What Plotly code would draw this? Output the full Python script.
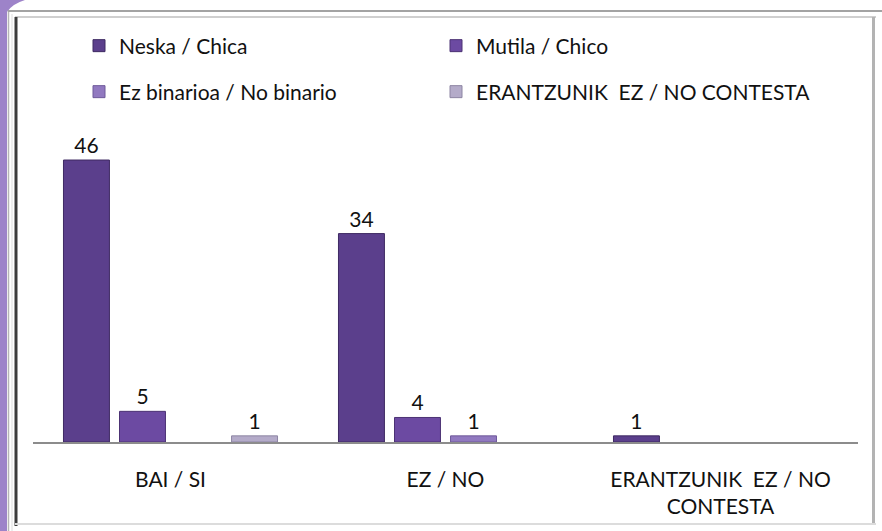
import plotly.graph_objects as go

# Survey answers, grouped by response, one series per respondent group
categories = ["BAI / SI", "EZ / NO", "ERANTZUNIK\u00a0 EZ / NO<br>CONTESTA"]
series_names = [
    "Neska / Chica",
    "Mutila / Chico",
    "Ez binarioa / No binario",
    "ERANTZUNIK\u00a0 EZ / NO CONTESTA",
]
neska = [46, 34, 1]
mutila = [5, 4, 0]
ez_binarioa = [0, 1, 0]
erantzunik_ez = [1, 0, 0]

fills = ["#5b3f8c", "#6c4aa2", "#9179c0", "#b4abc9"]
edges = ["#3e2a62", "#4c3274", "#6f5a9a", "#8d85a3"]
legend_ids = ["legend", "legend2", "legend3", "legend4"]

W, H = 882, 531
FONT = "Lato, 'Open Sans', sans-serif"


# pixel -> paper helpers (margins are zero, so paper spans the whole page)
def px(x):
    return x / W


def py(y):
    return 1 - y / H


fig = go.Figure()
for name, vals, fill, edge, lg in zip(
    series_names, [neska, mutila, ez_binarioa, erantzunik_ez], fills, edges, legend_ids
):
    fig.add_trace(
        go.Bar(
            name=name,
            x=categories,
            y=[v if v else None for v in vals],
            text=[str(v) if v else "" for v in vals],
            textposition="outside",
            cliponaxis=False,
            textfont=dict(family=FONT, size=21, color="#111111"),
            marker=dict(color=fill, line=dict(color=edge, width=1)),
            legend=lg,
        )
    )

frame = dict(xref="paper", yref="paper")
shapes = [
    # lavender strip on the left edge
    dict(frame, type="rect", x0=0, x1=px(7), y0=0, y1=1, fillcolor="#9d83c9", line_width=0),
    dict(frame, type="path",
         path=f"M0,1 L{px(25)},1 Q{px(12)},{py(4)} {px(7)},{py(12)} L0,{py(12)} Z",
         fillcolor="#9d83c9", line_width=0),
    # outer frame lines
    dict(frame, type="line", x0=px(8.5), x1=px(8.5), y0=0, y1=py(10),
         line=dict(color="#b5b5b5", width=1.5)),
    dict(frame, type="line", x0=px(8), x1=1, y0=py(11), y1=py(11),
         line=dict(color="#a3a3a3", width=2)),
    dict(frame, type="line", x0=px(12), x1=px(12), y0=0, y1=py(14),
         line=dict(color="#dddddd", width=1)),
    # inner frame
    dict(frame, type="line", x0=px(15), x1=px(876), y0=py(17), y1=py(17),
         line=dict(color="#cfcfcf", width=2)),
    dict(frame, type="line", x0=px(16), x1=px(16), y0=py(526), y1=py(17),
         line=dict(color="#3c3c3c", width=3)),
    dict(frame, type="line", x0=px(873.5), x1=px(873.5), y0=py(525), y1=py(17),
         line=dict(color="#b3b3b3", width=3)),
    dict(frame, type="line", x0=px(15), x1=px(876), y0=py(524), y1=py(524),
         line=dict(color="#dcdcdc", width=2)),
]

legend_common = dict(
    orientation="h",
    xanchor="left",
    yanchor="middle",
    font=dict(family=FONT, size=21, color="#111111"),
    bgcolor="rgba(0,0,0,0)",
    borderwidth=0,
)
# two columns, two rows of legend entries
legend_pos = {
    "legend": (79, 46),
    "legend2": (436, 46),
    "legend3": (79, 92),
    "legend4": (436, 92),
}
legend_layout = {
    key: dict(legend_common, x=px(lx), y=py(ly)) for key, (lx, ly) in legend_pos.items()
}

fig.update_layout(
    width=W,
    height=H,
    margin=dict(l=0, r=0, t=0, b=0),
    paper_bgcolor="white",
    plot_bgcolor="white",
    barmode="group",
    bargap=0.185,
    bargroupgap=0.18,
    showlegend=True,
    shapes=shapes,
    font=dict(family=FONT, size=21, color="#111111"),
    xaxis=dict(
        domain=[px(33), px(858)],
        anchor="y",
        showline=True,
        linecolor="#8c8c8c",
        linewidth=1.5,
        ticks="",
        showgrid=False,
        zeroline=False,
        tickfont=dict(family=FONT, size=21, color="#111111"),
        ticklabelstandoff=18,
    ),
    yaxis=dict(
        domain=[py(442), py(135.5)],
        range=[0, 50],
        visible=False,
        showgrid=False,
        zeroline=False,
    ),
    **legend_layout,
)

fig.write_html("out.html")
